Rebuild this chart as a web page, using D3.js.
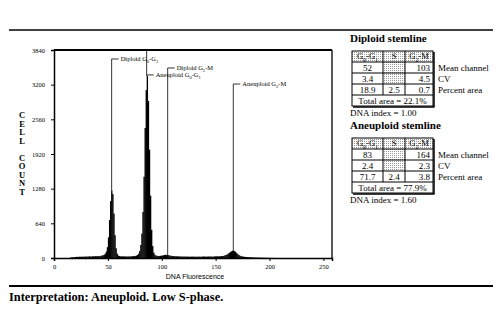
<!DOCTYPE html>
<html>
<head>
<meta charset="utf-8">
<script src="https://cdn.jsdelivr.net/npm/d3@7"></script>
<style>
  body { margin: 0; background: #fff; }
  svg { display: block; }
</style>
</head>
<body>
<div id="canvas"></div>
<script>
const width = 504;
const height = 331;

// Axis ticks
const yTicks = [0, 640, 1280, 1920, 2560, 3200, 3840];
const xTicks = [0, 50, 100, 150, 200, 250];

// Histogram counts per channel (0..259)
const counts = [
  0, 0, 0, 0, 0, 0, 0, 0, 0, 0,
  0, 0, 0, 0, 0, 10, 12, 15, 14, 18,
  20, 22, 18, 25, 24, 20, 26, 22, 25, 28,
  24, 26, 30, 28, 25, 30, 32, 28, 35, 30,
  34, 38, 32, 40, 45, 50, 60, 80, 120, 200,
  380, 700, 1050, 1250, 1180, 820, 420, 180, 80, 45,
  35, 30, 28, 32, 26, 30, 28, 25, 30, 27,
  30, 28, 32, 35, 30, 38, 45, 55, 80, 130,
  240, 450, 850, 1500, 2400, 3100, 3360, 2900, 2000, 1150,
  520, 220, 100, 60, 45, 40, 38, 35, 40, 42,
  45, 50, 55, 60, 58, 55, 50, 45, 40, 38,
  35, 32, 30, 32, 28, 30, 26, 28, 25, 27,
  25, 28, 24, 26, 25, 22, 24, 25, 23, 26,
  24, 22, 25, 23, 26, 24, 22, 25, 28, 26,
  25, 24, 26, 28, 25, 27, 26, 24, 28, 30,
  30, 30, 28, 32, 30, 34, 36, 40, 48, 55,
  65, 78, 92, 108, 122, 135, 138, 128, 110, 88,
  70, 55, 42, 34, 28, 25, 22, 20, 18, 16,
  15, 14, 13, 12, 11, 10, 9, 8, 8, 7,
  7, 6, 6, 5, 5, 4, 4, 3, 3, 3,
  2, 2, 2, 1, 1, 1, 0, 0, 0, 0,
  0, 0, 0, 0, 0, 0, 0, 0, 0, 0,
  0, 0, 0, 0, 0, 0, 0, 0, 0, 0,
  0, 0, 0, 0, 0, 0, 0, 0, 0, 0,
  0, 0, 0, 0, 0, 0, 0, 0, 0, 0,
  0, 0, 0, 0, 0, 0, 0, 0, 0, 0
];

// Peak markers: channel, count where the label sits, count where the line starts / ends
const markChannels = [53.5, 86, 105.5, 166.4];
const markLabelAt  = [3674, 3380, 3508, 3212];
const markLineTop  = [3674, 3840, 3508, 3212];
const markLineEnd  = [1250, 3360, 0, 138];
const markLabels = [
  [["Diploid G", 0], ["0", 1], ["-G", 0], ["1", 1]],
  [["Aneuploid G", 0], ["0", 1], ["-G", 0], ["1", 1]],
  [["Diploid G", 0], ["2", 1], ["-M", 0]],
  [["Aneuploid  G", 0], ["2", 1], ["-M", 0]]
];

// Stemline tables
const stemlines = ["Diploid stemline", "Aneuploid stemline"];
const meanChannel = [["52", "103"], ["83", "164"]];
const cvValues = [["3.4", "4.5"], ["2.4", "2.3"]];
const percentArea = [["18.9", "2.5", "0.7"], ["71.7", "2.4", "3.8"]];
const totalArea = ["22.1%", "77.9%"];
const dnaIndex = ["1.00", "1.60"];
const rowLabels = ["Mean channel", "CV", "Percent area"];
const headers = [
  [["G", 0], ["0", 1], ["-G", 0], ["1", 1]],
  [["S", 0]],
  [["G", 0], ["2", 1], ["-M", 0]]
];

const serif = "'Liberation Serif', 'DejaVu Serif', serif";
const sans = "'Liberation Sans', Arial, sans-serif";

let svg = d3.select('#canvas').append('svg')
  .attr('width', width)
  .attr('height', height);

svg.append('rect').attr('width', width).attr('height', height).attr('fill', '#fff');

// stipple pattern for shaded cells
let pat = svg.append('defs').append('pattern')
  .attr('id', 'dots')
  .attr('width', 2).attr('height', 2)
  .attr('patternUnits', 'userSpaceOnUse');
pat.append('rect').attr('width', 2).attr('height', 2).attr('fill', '#fff');
pat.append('rect').attr('width', 1).attr('height', 1).attr('fill', '#999');

// page rules
svg.append('line').attr('x1', 9).attr('x2', 493).attr('y1', 30).attr('y2', 30)
  .attr('stroke', '#000').attr('stroke-width', 1.5);
svg.append('line').attr('x1', 9).attr('x2', 493).attr('y1', 286).attr('y2', 286)
  .attr('stroke', '#000').attr('stroke-width', 2);

svg.append('text')
  .attr('x', 9).attr('y', 301)
  .attr('font-family', serif).attr('font-weight', 'bold').attr('font-size', 12.4)
  .text('Interpretation: Aneuploid. Low S-phase.');

// _________ Histogram _________
const x = d3.scaleLinear().domain([0, 258]).range([54, 332]);
const y = d3.scaleLinear().domain([0, 3840]).range([258, 50]);

svg.append('g').selectAll('rect')
  .data(counts)
  .enter().append('rect')
  .attr('x', (d, i) => x(i))
  .attr('width', x(1) - x(0) + 0.3)
  .attr('y', d => y(d))
  .attr('height', d => y(0) - y(d))
  .attr('fill', '#000');

// frame
svg.append('line').attr('x1', x(0)).attr('x2', x(258)).attr('y1', y(3840)).attr('y2', y(3840))
  .attr('stroke', '#000').attr('stroke-width', 2);
svg.append('line').attr('x1', x(258)).attr('x2', x(258)).attr('y1', y(3840)).attr('y2', y(0))
  .attr('stroke', '#000').attr('stroke-width', 1.3);

let yAxis = svg.append('g')
  .attr('transform', `translate(${x(0)},0)`)
  .call(d3.axisLeft(y).tickValues(yTicks).tickSize(3).tickPadding(6).tickFormat(d3.format('d')));
let xAxis = svg.append('g')
  .attr('transform', `translate(0,${y(0)})`)
  .call(d3.axisBottom(x).tickValues(xTicks).tickSize(3).tickPadding(3).tickFormat(d3.format('d')));

[xAxis, yAxis].forEach(a => {
  a.select('.domain').attr('stroke-width', 1.5);
  a.selectAll('text').attr('font-family', serif).attr('font-size', 6.5);
});

svg.append('text')
  .attr('x', 195).attr('y', 279)
  .attr('text-anchor', 'middle')
  .attr('font-family', sans).attr('font-size', 7)
  .text('DNA Fluorescence');

// stacked y title
const yTitle = 'CELL COUNT'.split('');
svg.append('g').selectAll('text')
  .data(yTitle)
  .enter().append('text')
  .attr('x', 22)
  .attr('y', (d, i) => 118 + i * 8.5)
  .attr('text-anchor', 'middle')
  .attr('font-family', serif).attr('font-weight', 'bold').attr('font-size', 8.5)
  .text(d => d);

// _________ Peak markers _________
function richText(sel, parts, size) {
  let shifted = false;
  parts.forEach(p => {
    let isSub = p[1] === 1;
    let dy = 0;
    if (isSub && !shifted) { dy = size * 0.3; shifted = true; }
    else if (!isSub && shifted) { dy = -size * 0.3; shifted = false; }
    sel.append('tspan')
      .attr('dy', dy)
      .attr('font-size', isSub ? size * 0.7 : size)
      .text(p[0]);
  });
}

markChannels.forEach((ch, i) => {
  let mx = x(ch);
  let ly = y(markLabelAt[i]);
  svg.append('line')
    .attr('x1', mx).attr('x2', mx)
    .attr('y1', y(markLineTop[i])).attr('y2', y(markLineEnd[i]))
    .attr('stroke', '#000').attr('stroke-width', 0.8);
  svg.append('line')
    .attr('x1', mx).attr('x2', mx + 7)
    .attr('y1', ly).attr('y2', ly)
    .attr('stroke', '#000').attr('stroke-width', 0.8);
  let t = svg.append('text')
    .attr('x', mx + 9).attr('y', ly + 2)
    .attr('font-family', serif);
  richText(t, markLabels[i], 6.5);
});

// _________ Stemline tables _________
const tLeft = 352;
const colW = [31, 22, 28];
const rowH = 11;
const colX = [tLeft, tLeft + colW[0], tLeft + colW[0] + colW[1], tLeft + colW[0] + colW[1] + colW[2]];

stemlines.forEach((name, k) => {
  let g = svg.append('g').attr('transform', `translate(0,${k * 87})`);
  g.append('text')
    .attr('x', 350).attr('y', 42)
    .attr('font-family', serif).attr('font-weight', 'bold').attr('font-size', 11)
    .text(name);

  let top = 51;
  let tRight = colX[3];
  let tBottom = top + rowH * 5;

  // shaded cells
  for (let c = 0; c < 3; c++) {
    g.append('rect').attr('x', colX[c]).attr('y', top)
      .attr('width', colW[c]).attr('height', rowH).attr('fill', 'url(#dots)');
  }
  g.append('rect').attr('x', colX[1]).attr('y', top + rowH)
    .attr('width', colW[1]).attr('height', rowH * 2).attr('fill', 'url(#dots)');

  // grid lines
  let line = (x1, y1, x2, y2, w) => g.append('line')
    .attr('x1', x1).attr('y1', y1).attr('x2', x2).attr('y2', y2)
    .attr('stroke', '#000').attr('stroke-width', w || 1);
  for (let r = 1; r <= 4; r++) line(tLeft, top + rowH * r, tRight, top + rowH * r);
  line(colX[1], top, colX[1], top + rowH * 4);
  line(colX[2], top, colX[2], top + rowH * 4);
  g.append('rect').attr('x', tLeft).attr('y', top)
    .attr('width', tRight - tLeft).attr('height', tBottom - top)
    .attr('fill', 'none').attr('stroke', '#000').attr('stroke-width', 1);
  // shadow
  line(tRight + 1, top + 1, tRight + 1, tBottom + 1, 1.5);
  line(tLeft + 1, tBottom + 1, tRight + 1.5, tBottom + 1, 1.5);

  let cellText = (cx, cy, s, anchor) => g.append('text')
    .attr('x', cx).attr('y', cy)
    .attr('text-anchor', anchor || 'middle')
    .attr('font-family', serif).attr('font-size', 9)
    .text(s);

  headers.forEach((h, c) => {
    let t = g.append('text')
      .attr('x', colX[c] + colW[c] / 2).attr('y', top + rowH - 3)
      .attr('text-anchor', 'middle')
      .attr('font-family', serif);
    richText(t, h, 8.5);
  });

  let rowY = r => top + rowH * (r + 1) + rowH - 2.5;
  cellText(colX[0] + colW[0] / 2, rowY(0), meanChannel[k][0]);
  cellText(colX[3] - 3, rowY(0), meanChannel[k][1], 'end');
  cellText(colX[0] + colW[0] / 2, rowY(1), cvValues[k][0]);
  cellText(colX[3] - 3, rowY(1), cvValues[k][1], 'end');
  cellText(colX[0] + colW[0] / 2, rowY(2), percentArea[k][0]);
  cellText(colX[1] + colW[1] / 2, rowY(2), percentArea[k][1]);
  cellText(colX[3] - 3, rowY(2), percentArea[k][2], 'end');
  cellText((tLeft + tRight) / 2, rowY(3), 'Total area = ' + totalArea[k]);

  rowLabels.forEach((lab, r) => {
    cellText(tRight + 5, rowY(r), lab, 'start');
  });

  g.append('text')
    .attr('x', 350).attr('y', tBottom + 10)
    .attr('font-family', serif).attr('font-size', 9)
    .text('DNA index = ' + dnaIndex[k]);
});
</script>
</body>
</html>
